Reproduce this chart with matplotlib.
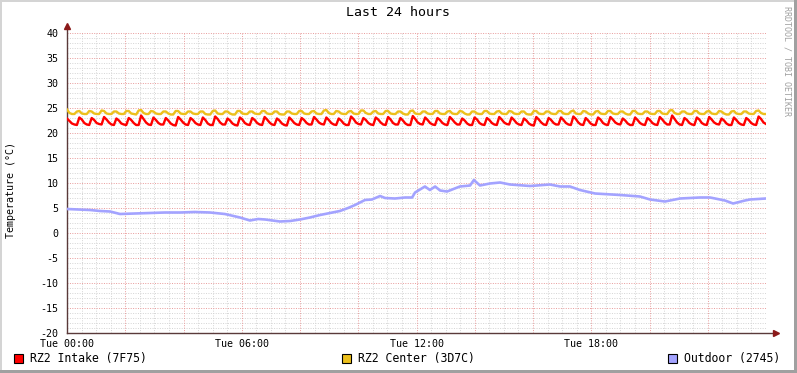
import numpy as np
import matplotlib
matplotlib.use('Agg')
import matplotlib.pyplot as plt
from matplotlib.patches import Rectangle

plt.rcParams['font.family'] = 'DejaVu Sans Mono'
plt.rcParams['axes.unicode_minus'] = False

# RZ2 Intake, 5 min samples (one row = one cooling cycle)
intake = [
    22.9, 22.4, 21.9, 21.7, 21.6,  23.1, 22.7, 22.0, 21.7, 21.6,  23.0, 22.6, 22.0, 21.8, 21.7,
    23.2, 22.7, 22.1, 21.7, 21.6,  22.9, 22.5, 21.9, 21.7, 21.6,  23.0, 22.6, 22.0, 21.6, 21.6,
    23.5, 22.8, 22.1, 21.7, 21.6,  23.1, 22.6, 22.0, 21.7, 21.7,  23.0, 22.5, 21.9, 21.6, 21.5,
    23.2, 22.7, 22.1, 21.7, 21.6,  23.0, 22.6, 22.0, 21.7, 21.6,  23.1, 22.6, 21.9, 21.6, 21.6,
    23.3, 22.8, 22.1, 21.7, 21.7,  22.9, 22.5, 21.9, 21.6, 21.5,  23.1, 22.7, 22.0, 21.7, 21.6,
    23.0, 22.6, 22.0, 21.7, 21.6,  23.2, 22.7, 22.1, 21.7, 21.6,  22.9, 22.5, 21.9, 21.6, 21.5,
    23.1, 22.6, 22.0, 21.7, 21.6,  23.0, 22.6, 22.0, 21.7, 21.7,  23.2, 22.7, 22.1, 21.8, 21.7,
    23.1, 22.6, 22.0, 21.7, 21.6,  22.9, 22.5, 21.9, 21.6, 21.6,  23.3, 22.8, 22.1, 21.8, 21.7,
    23.0, 22.6, 22.0, 21.7, 21.6,  23.1, 22.7, 22.1, 21.7, 21.6,  23.2, 22.7, 22.0, 21.7, 21.7,
    23.0, 22.5, 21.9, 21.6, 21.6,  23.4, 22.8, 22.1, 21.8, 21.7,  23.1, 22.6, 22.0, 21.7, 21.6,
    23.0, 22.6, 22.0, 21.7, 21.6,  23.2, 22.7, 22.1, 21.7, 21.7,  22.9, 22.5, 21.9, 21.6, 21.6,
    23.1, 22.7, 22.0, 21.7, 21.6,  23.0, 22.6, 22.0, 21.7, 21.6,  23.2, 22.7, 22.1, 21.8, 21.7,
    23.1, 22.6, 22.0, 21.7, 21.6,  22.9, 22.5, 21.9, 21.6, 21.5,  23.2, 22.7, 22.1, 21.7, 21.6,
    23.0, 22.6, 22.0, 21.7, 21.7,  23.1, 22.6, 22.0, 21.7, 21.6,  23.3, 22.8, 22.1, 21.7, 21.6,
    23.0, 22.5, 21.9, 21.6, 21.6,  23.1, 22.7, 22.0, 21.7, 21.6,  23.2, 22.7, 22.1, 21.8, 21.7,
    22.9, 22.5, 21.9, 21.6, 21.6,  23.1, 22.6, 22.0, 21.7, 21.6,  23.0, 22.6, 22.0, 21.7, 21.6,
    23.2, 22.7, 22.1, 21.7, 21.7,  23.5, 22.8, 22.1, 21.7, 21.6,  23.0, 22.6, 22.0, 21.7, 21.6,
    23.1, 22.7, 22.0, 21.7, 21.6,  23.2, 22.7, 22.1, 21.8, 21.7,  22.9, 22.5, 21.9, 21.6, 21.6,
    23.1, 22.6, 22.0, 21.7, 21.6,  23.0, 22.6, 22.0, 21.7, 21.6,  23.3, 22.8, 22.1, 21.8,
]

# RZ2 Center
center = [
    24.7, 24.0, 23.8, 23.8, 24.3,  24.4, 23.9, 23.8, 23.8, 24.4,  24.3, 23.9, 23.8, 23.8, 24.5,
    24.4, 23.9, 23.8, 23.8, 24.3,  24.3, 23.9, 23.8, 23.8, 24.4,  24.4, 23.9, 23.8, 23.7, 24.5,
    24.6, 24.0, 23.8, 23.8, 24.4,  24.3, 23.9, 23.8, 23.8, 24.3,  24.3, 23.9, 23.7, 23.7, 24.4,
    24.4, 23.9, 23.8, 23.8, 24.3,  24.3, 23.9, 23.8, 23.8, 24.3,  24.3, 23.8, 23.7, 23.7, 24.4,
    24.5, 23.9, 23.8, 23.8, 24.3,  24.3, 23.9, 23.7, 23.7, 24.4,  24.4, 23.9, 23.8, 23.8, 24.3,
    24.3, 23.9, 23.8, 23.8, 24.4,  24.4, 23.9, 23.8, 23.8, 24.3,  24.3, 23.8, 23.7, 23.7, 24.3,
    24.3, 23.9, 23.8, 23.8, 24.4,  24.4, 23.9, 23.8, 23.8, 24.3,  24.4, 23.9, 23.8, 23.8, 24.5,
    24.6, 24.0, 23.8, 23.8, 24.4,  24.3, 23.9, 23.8, 23.8, 24.3,  24.4, 23.9, 23.8, 23.8, 24.5,
    24.5, 24.0, 23.8, 23.8, 24.3,  24.4, 23.9, 23.8, 23.8, 24.4,  24.4, 23.9, 23.8, 23.8, 24.3,
    24.3, 23.9, 23.7, 23.7, 24.4,  24.5, 23.9, 23.8, 23.8, 24.3,  24.3, 23.9, 23.8, 23.8, 24.4,
    24.4, 23.9, 23.8, 23.8, 24.3,  24.4, 23.9, 23.8, 23.8, 24.4,  24.3, 23.9, 23.7, 23.7, 24.3,
    24.3, 23.9, 23.8, 23.8, 24.4,  24.4, 23.9, 23.8, 23.8, 24.3,  24.4, 23.9, 23.8, 23.8, 24.4,
    24.3, 23.9, 23.8, 23.8, 24.3,  24.3, 23.8, 23.7, 23.7, 24.4,  24.4, 23.9, 23.8, 23.8, 24.3,
    24.3, 23.9, 23.8, 23.8, 24.4,  24.4, 23.9, 23.8, 23.8, 24.3,  24.5, 23.9, 23.8, 23.8, 24.4,
    24.3, 23.9, 23.7, 23.7, 24.3,  24.4, 23.9, 23.8, 23.8, 24.4,  24.4, 23.9, 23.8, 23.8, 24.3,
    24.3, 23.9, 23.7, 23.7, 24.4,  24.4, 23.9, 23.8, 23.8, 24.3,  24.3, 23.9, 23.8, 23.8, 24.4,
    24.4, 23.9, 23.8, 23.8, 24.5,  24.6, 24.0, 23.8, 23.8, 24.3,  24.3, 23.9, 23.8, 23.8, 24.4,
    24.4, 23.9, 23.8, 23.8, 24.3,  24.4, 23.9, 23.8, 23.8, 24.4,  24.3, 23.9, 23.7, 23.7, 24.3,
    24.4, 23.9, 23.8, 23.8, 24.3,  24.3, 23.9, 23.8, 23.8, 24.4,  24.5, 24.0, 23.8, 23.8,
]

# Outdoor
outdoor_h = [0.0, 0.79, 1.13, 1.48, 1.82, 2.33, 2.85, 3.36, 3.88, 4.39, 4.91, 5.42, 5.94,
             6.28, 6.56, 6.80, 7.31, 7.66, 8.00, 8.34, 8.69, 9.03, 9.37, 9.65, 9.89, 10.23,
             10.47, 10.75, 10.92, 11.26, 11.61, 11.85, 11.95, 12.29, 12.46, 12.64, 12.81,
             13.05, 13.49, 13.84, 13.97, 14.18, 14.52, 14.87, 15.21, 15.90, 16.58, 16.93,
             17.27, 17.61, 18.13, 18.99, 19.67, 20.02, 20.53, 21.05, 21.73, 22.08, 22.59,
             22.87, 23.28, 23.45, 24.0]
outdoor = [4.8, 4.6, 4.4, 4.3, 3.8, 3.9, 4.0, 4.1, 4.1, 4.2, 4.1, 3.8, 3.1,
           2.5, 2.8, 2.7, 2.3, 2.4, 2.7, 3.1, 3.6, 4.0, 4.4, 5.0, 5.6, 6.6,
           6.7, 7.4, 7.0, 6.9, 7.1, 7.1, 8.1, 9.3, 8.6, 9.3, 8.5,
           8.3, 9.3, 9.5, 10.6, 9.5, 9.9, 10.1, 9.7, 9.4, 9.7, 9.3,
           9.3, 8.6, 7.9, 7.6, 7.3, 6.7, 6.3, 6.9, 7.1, 7.1, 6.5,
           5.9, 6.5, 6.7, 6.9]

labels = ['RZ2 Intake (7F75)', 'RZ2 Center (3D7C)', 'Outdoor (2745)']
colors = ['#ff0000', '#ecc01c', '#a3a3ff']
xticks_h = [0, 6, 12, 18]
xtick_labels = ['Tue 00:00', 'Tue 06:00', 'Tue 12:00', 'Tue 18:00']

W, H = 797, 373
fig = plt.figure(figsize=(W / 100, H / 100), dpi=100)
fig.patch.set_facecolor('white')
ax = fig.add_axes([67 / W, 40 / H, 699 / W, 300 / H])

t_intake = np.linspace(0, 24, len(intake))
t_center = np.linspace(0, 24, len(center))

ax.set_xlim(0, 24)
ax.set_ylim(-20, 40)

# dotted grid like rrdtool
gkw = dict(lw=0.7, ls=(0, (1, 1.5)))
for h in np.arange(0.5, 24.01, 0.5):
    if h % 2:
        ax.axvline(h, color='#d4d4d4', zorder=0, **gkw)
for v in range(-19, 41):
    if v % 5:
        ax.axhline(v, color='#d4d4d4', zorder=0, **gkw)
for h in range(2, 25, 2):
    ax.axvline(h, color='#e89a9a', zorder=1, **gkw)
for v in range(-15, 41, 5):
    ax.axhline(v, color='#e89a9a', zorder=1, **gkw)

ax.plot(t_center, center, color=colors[1], lw=1.7, zorder=3)
ax.plot(t_intake, intake, color=colors[0], lw=1.7, zorder=3)
ax.plot(outdoor_h, outdoor, color=colors[2], lw=1.9, zorder=3)

for s in ax.spines.values():
    s.set_visible(False)

# axes with arrows
ax.plot([0, 0], [0, 1.02], transform=ax.transAxes, color='#5a3a3a', lw=1, clip_on=False)
ax.plot([0, 1.012], [0, 0], transform=ax.transAxes, color='#5a3a3a', lw=1, clip_on=False)
ax.plot([0], [1.025], transform=ax.transAxes, marker='^', ms=4, color='#8b1a1a', clip_on=False)
ax.plot([1.014], [0], transform=ax.transAxes, marker='>', ms=4, color='#8b1a1a', clip_on=False)

ax.set_yticks(range(-20, 41, 5))
ax.set_xticks(xticks_h)
ax.set_xticklabels(xtick_labels)
ax.tick_params(axis='both', length=0, labelsize=7.2, colors='black')
ax.tick_params(axis='y', pad=6)
ax.tick_params(axis='x', pad=4)

fig.text(398 / W, 1 - 13 / H, 'Last 24 hours', ha='center', va='center', fontsize=9.5)
fig.text(11 / W, 1 - 190 / H, 'Temperature (°C)', ha='center', va='center',
         rotation=90, fontsize=7.2)
fig.text(787 / W, 1 - 6 / H, 'RRDTOOL / TOBI OETIKER', ha='center', va='top',
         rotation=270, fontsize=6, color='#a0a0a0')

# legend
leg_x = [14, 342, 668]
for x0, lab, c in zip(leg_x, labels, colors):
    fig.add_artist(Rectangle((x0 / W, 1 - 363 / H), 9 / W, 9 / H, facecolor=c,
                             edgecolor='black', lw=0.8, transform=fig.transFigure))
    fig.text((x0 + 16) / W, 1 - 358.5 / H, lab, ha='left', va='center', fontsize=8.3)

# frame
fig.add_artist(Rectangle((0, 1 - 2 / H), 1, 2 / H, facecolor='#d4d4d4', lw=0, transform=fig.transFigure))
fig.add_artist(Rectangle((0, 0), 2 / W, 1, facecolor='#d4d4d4', lw=0, transform=fig.transFigure))
fig.add_artist(Rectangle((1 - 3 / W, 0), 3 / W, 1, facecolor='#a0a0a0', lw=0, transform=fig.transFigure))
fig.add_artist(Rectangle((0, 0), 1, 3 / H, facecolor='#a0a0a0', lw=0, transform=fig.transFigure))

fig.savefig('out.png', dpi=100)
